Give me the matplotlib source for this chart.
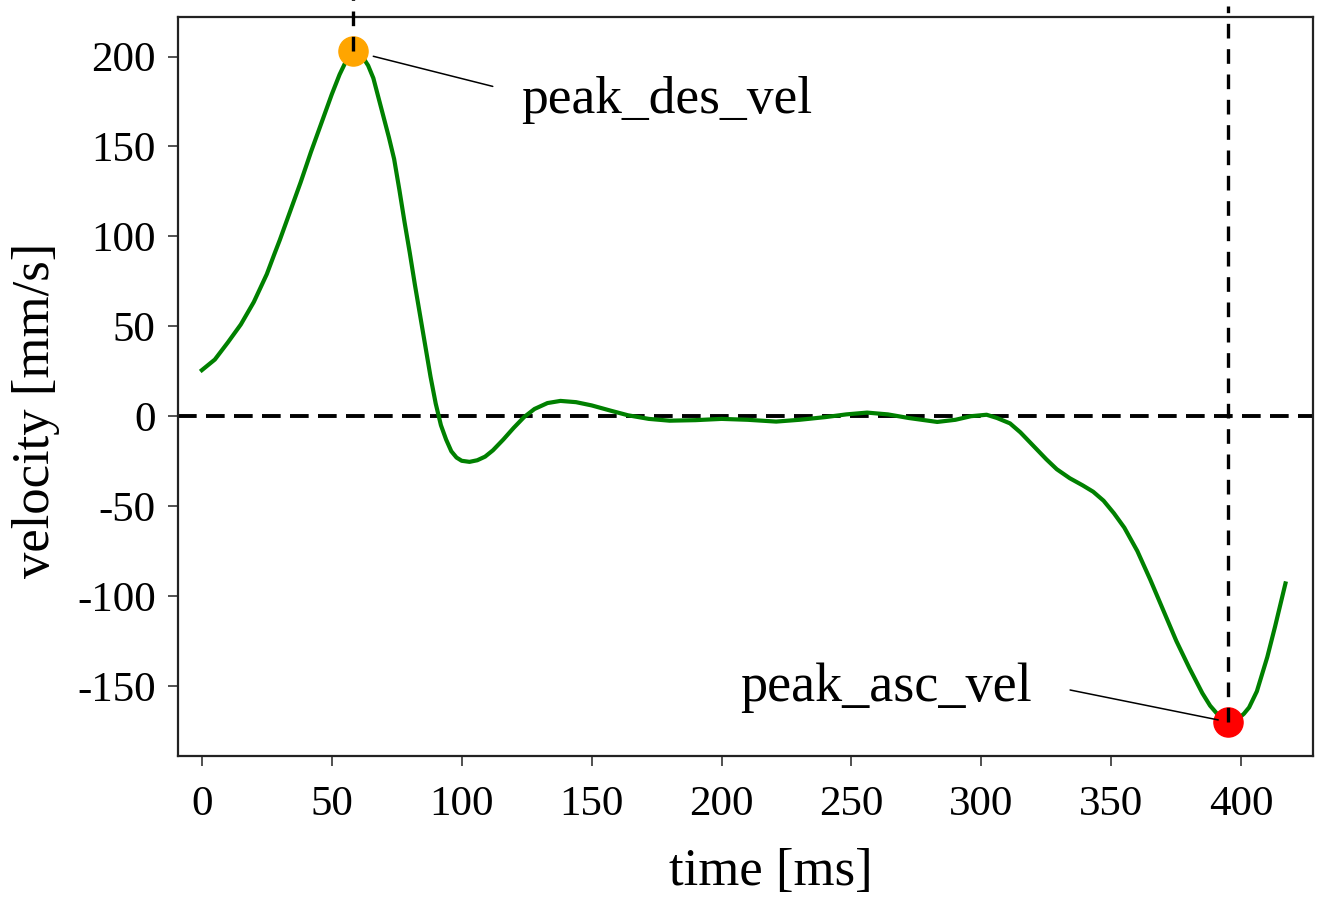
import matplotlib
matplotlib.use('Agg')
import matplotlib.pyplot as plt

plt.rcParams['font.family'] = ['Liberation Serif', 'DejaVu Serif']
plt.rcParams['axes.unicode_minus'] = False

# velocity trace
time_ms = [0, 5, 10, 15, 20, 25, 28, 30, 34, 38, 42, 46, 50, 53, 56, 58.2, 60,
           62, 64, 66, 68, 70, 72, 74, 76, 78, 80, 82, 84, 86, 88, 90, 92, 94,
           96, 98, 100, 103, 106, 109, 112, 116, 120, 124, 128, 133, 138, 144,
           150, 157, 164, 172, 180, 190, 200, 210, 221, 230, 240, 248, 256, 264,
           272, 283, 290, 296, 302, 306, 311, 315, 320, 325, 329, 334, 339, 343,
           347, 351, 355, 360, 365, 370, 375, 380, 385, 388, 391, 393, 394.8,
           397, 399, 401, 403, 406, 410, 413, 417]
velocity = [25.6, 31.5, 41, 51, 63.5, 79, 90.5, 98, 114, 130, 147, 163, 179,
            190, 199, 203, 202, 199.5, 195, 188, 177, 166, 155, 143, 126, 108,
            91, 73, 56, 39, 22, 7, -5, -13, -19.5, -23, -24.8, -25.4, -24.5,
            -22.5, -19, -13, -6.5, -0.5, 4, 7.3, 8.5, 7.8, 6, 3.2, 0.5, -1.5,
            -2.5, -2.2, -1.5, -2, -3, -2, -0.5, 1, 2, 1, -1, -3.2, -2, 0, 0.8,
            -1, -4, -9, -16.5, -24, -29.5, -34.5, -38.5, -42, -47, -54, -62,
            -75, -91, -108, -125, -140, -154, -161, -166, -168.5, -170, -169.5,
            -168, -165.5, -162, -153, -134, -117, -93]

# marked peaks
des_t, des_v = 58.2, 203
asc_t, asc_v = 394.8, -170

xticks = [0, 50, 100, 150, 200, 250, 300, 350, 400]
yticks = [-150, -100, -50, 0, 50, 100, 150, 200]

fig = plt.figure(figsize=(13.2, 9.1), dpi=100)
ax = fig.add_axes([0.1348, 0.1692, 0.8599, 0.8121])

ax.plot(time_ms, velocity, color='green', lw=3.0, zorder=2,
        solid_joinstyle='round')
ax.axhline(0, color='black', lw=2.8, dashes=(4.8, 2.4), zorder=1)

ax.scatter([des_t], [des_v], s=440, color='orange', zorder=3)
ax.scatter([asc_t], [asc_v], s=440, color='red', zorder=3)

ax.vlines([des_t], des_v, 232, color='black', lw=2.4,
          linestyles=[(0, (4.4, 3.2))], clip_on=False, zorder=4)
ax.vlines([asc_t], asc_v, 228, color='black', lw=2.4,
          linestyles=[(0, (4.4, 3.2))], clip_on=False, zorder=4)

ax.annotate('peak_des_vel', xy=(des_t, des_v), xytext=(121, -35),
            textcoords='offset points', ha='left', va='center', fontsize=38.5,
            arrowprops=dict(arrowstyle='-', color='black', lw=1.1,
                            relpos=(0, 0.63), shrinkA=19, shrinkB=15))
ax.annotate('peak_asc_vel', xy=(asc_t, asc_v), xytext=(-141, 24.5),
            textcoords='offset points', ha='right', va='center', fontsize=39,
            zorder=5,
            arrowprops=dict(arrowstyle='-', color='black', lw=1.1,
                            relpos=(1, 0.61), shrinkA=26, shrinkB=7))

ax.set_xlim(-9.2, 427.6)
ax.set_ylim(-189, 222)
ax.set_xticks(xticks)
ax.set_yticks(yticks)
ax.tick_params(labelsize=31, length=7, width=1.2, color='#333333')
ax.tick_params(axis='x', pad=14)
ax.tick_params(axis='y', pad=9)

for sp in ax.spines.values():
    sp.set_linewidth(1.6)
    sp.set_color('#222222')

ax.set_xlabel('time [ms]', fontsize=38)
ax.set_ylabel('velocity [mm/s]', fontsize=38)
ax.xaxis.set_label_coords(0.522, -0.1245)
ax.yaxis.set_label_coords(-0.104, 0.468)

fig.savefig('out.png', dpi=100)
